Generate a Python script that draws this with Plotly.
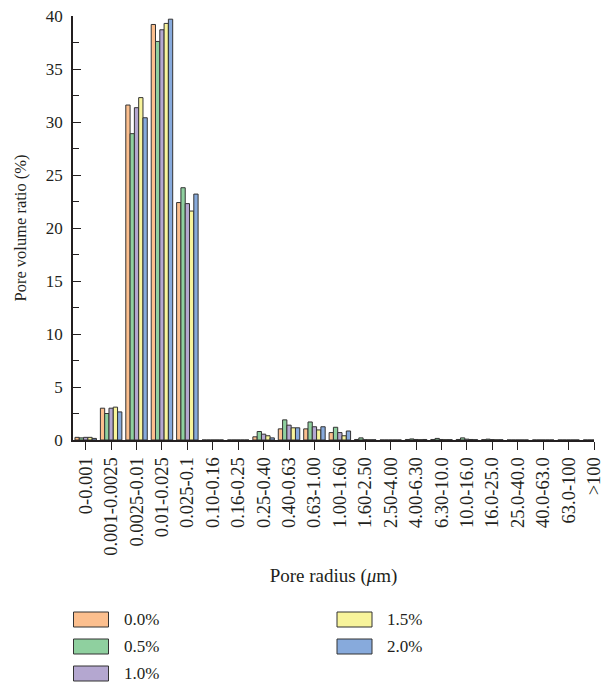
import plotly.graph_objects as go

# Pore radius classes (μm)
categories = [
    "0-0.001", "0.001-0.0025", "0.0025-0.01", "0.01-0.025", "0.025-0.1",
    "0.10-0.16", "0.16-0.25", "0.25-0.40", "0.40-0.63", "0.63-1.00",
    "1.00-1.60", "1.60-2.50", "2.50-4.00", "4.00-6.30", "6.30-10.0",
    "10.0-16.0", "16.0-25.0", "25.0-40.0", "40.0-63.0", "63.0-100", ">100",
]

# Pore volume ratio (%) for each dosage
ratio_00 = [0.25, 3.0, 31.6, 39.2, 22.4, 0.0, 0.0, 0.3, 1.05, 1.05, 0.7,
            0.05, 0.0, 0.05, 0.05, 0.05, 0.03, 0.0, 0.0, 0.0, 0.0]
ratio_05 = [0.2, 2.5, 28.9, 37.6, 23.8, 0.0, 0.0, 0.8, 1.9, 1.7, 1.2,
            0.2, 0.0, 0.1, 0.15, 0.2, 0.08, 0.0, 0.0, 0.0, 0.0]
ratio_10 = [0.25, 3.0, 31.35, 38.7, 22.3, 0.0, 0.0, 0.55, 1.4, 1.25, 0.7,
            0.03, 0.0, 0.05, 0.05, 0.08, 0.04, 0.0, 0.0, 0.0, 0.0]
ratio_15 = [0.25, 3.1, 32.3, 39.3, 21.6, 0.0, 0.0, 0.4, 1.15, 0.95, 0.4,
            0.02, 0.0, 0.03, 0.03, 0.05, 0.02, 0.0, 0.0, 0.0, 0.0]
ratio_20 = [0.15, 2.65, 30.4, 39.7, 23.2, 0.0, 0.0, 0.2, 1.15, 1.25, 0.85,
            0.02, 0.0, 0.05, 0.03, 0.03, 0.02, 0.0, 0.0, 0.0, 0.0]

series_names = ["0.0%", "0.5%", "1.0%", "1.5%", "2.0%"]
series_values = [ratio_00, ratio_05, ratio_10, ratio_15, ratio_20]
series_colors = ["#FCBF8E", "#8FD09F", "#B4A7D0", "#F8F49B", "#87AADC"]

FONT = "Liberation Serif"
INK = "#231F20"
EDGE = "#333333"

W, H = 605, 684
M_L, M_R, M_T, M_B = 73, 11, 16, 244
PW, PH = W - M_L - M_R, H - M_T - M_B


def px_x(p):
    """Pixel column -> paper x."""
    return (p - M_L) / PW


def px_y(p):
    """Pixel row -> paper y."""
    return (H - M_B - p) / PH


fig = go.Figure()
for name, vals, col in zip(series_names, series_values, series_colors):
    fig.add_trace(go.Bar(
        x=categories, y=vals, name=name,
        marker=dict(color=col, line=dict(color=EDGE, width=1)),
        showlegend=False,
    ))

# Key below the chart: two columns of swatches with labels
key_cols = [(73.5, 121.5), (337, 385)]   # swatch left, label left (px)
key_rows = [619.5, 646.5, 673.5]          # row centres (px)
slots = [(0, 0), (0, 1), (0, 2), (1, 0), (1, 1)]
shapes, annotations = [], []
for (ci, ri), name, col in zip(slots, series_names, series_colors):
    sx, tx = key_cols[ci]
    cy = key_rows[ri]
    shapes.append(dict(
        type="rect", xref="paper", yref="paper",
        x0=px_x(sx), x1=px_x(sx + 35), y0=px_y(cy + 7.5), y1=px_y(cy - 7.5),
        fillcolor=col, line=dict(color=EDGE, width=1),
    ))
    annotations.append(dict(
        text=name, xref="paper", yref="paper", x=px_x(tx), y=px_y(cy),
        xanchor="left", yanchor="middle", showarrow=False,
        font=dict(family=FONT, size=17, color=INK),
    ))

fig.update_layout(
    width=W, height=H,
    margin=dict(l=M_L, r=M_R, t=M_T, b=M_B),
    paper_bgcolor="white", plot_bgcolor="white",
    barmode="group", bargap=0.155, bargroupgap=0,
    font=dict(family=FONT, size=17, color=INK),
    showlegend=False,
    shapes=shapes, annotations=annotations,
    xaxis=dict(
        type="category", range=[-0.5, 20], automargin=False,
        showline=True, linecolor=INK, linewidth=1.5,
        ticks="outside", ticklen=8, tickwidth=1.2, tickcolor=INK,
        tickangle=-90, tickfont=dict(family=FONT, size=18.5, color=INK),
        showgrid=False, zeroline=False,
        title=dict(text="Pore radius (<i>μ</i>m)", standoff=14,
                   font=dict(family=FONT, size=19, color=INK)),
    ),
    yaxis=dict(
        range=[0, 40], dtick=5, tick0=0, automargin=False,
        showline=True, linecolor=INK, linewidth=1.5,
        ticks="inside", ticklen=8, tickwidth=1.2, tickcolor=INK,
        ticklabelstandoff=5,
        minor=dict(dtick=2.5, ticks="inside", ticklen=6, tickwidth=1.2, tickcolor=INK),
        tickfont=dict(family=FONT, size=17, color=INK),
        showgrid=False, zeroline=False,
        title=dict(text="Pore volume ratio (%)", standoff=15,
                   font=dict(family=FONT, size=16.5, color=INK)),
    ),
)

fig.write_html("out.html")
